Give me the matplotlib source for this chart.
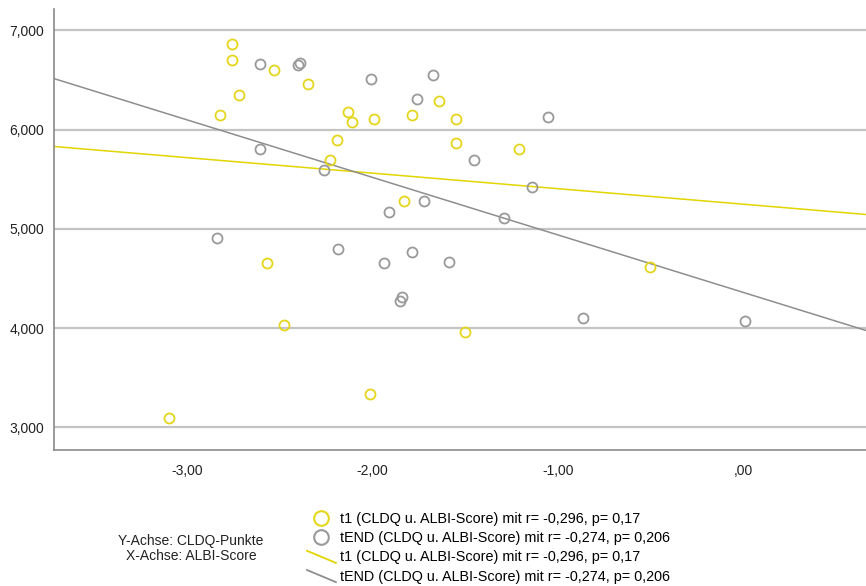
import numpy as np
import matplotlib
matplotlib.use("Agg")
import matplotlib.pyplot as plt
from matplotlib.lines import Line2D
from matplotlib.legend_handler import HandlerBase
from matplotlib.ticker import FuncFormatter

plt.rcParams['font.family'] = ['Liberation Sans', 'DejaVu Sans']

###############################################################################
# Data
###############################################################################
# t1: ALBI-Score (x) and CLDQ-Punkte (y)
t1_albi = [-2.758, -2.758, -2.720, -2.821, -2.529, -2.349, -2.130, -2.108,
           -1.989, -1.788, -1.639, -1.550, -2.189, -2.229, -1.550, -1.210,
           -1.829, -2.570, -2.479, -3.098, -2.011, -1.500, -0.504]
t1_cldq = [6.866, 6.704, 6.344, 6.143, 6.604, 6.455, 6.177, 6.076,
           6.106, 6.143, 6.284, 6.106, 5.895, 5.696, 5.864, 5.804,
           5.285, 4.654, 4.032, 3.097, 3.339, 3.961, 4.620]

# tEND
tend_albi = [-2.608, -2.402, -2.391, -2.608, -2.839, -2.009, -1.671, -1.761,
             -1.051, -1.450, -2.260, -1.140, -1.720, -1.910, -1.290, -2.188,
             -1.937, -1.788, -1.587, -1.839, -1.851, -0.862, 0.009]
tend_cldq = [6.664, 6.654, 6.674, 5.800, 4.904, 6.506, 6.553, 6.308,
             6.127, 5.693, 5.595, 5.417, 5.285, 5.174, 5.108, 4.793,
             4.660, 4.765, 4.664, 4.317, 4.277, 4.102, 4.075]

label_t1 = "t1 (CLDQ u. ALBI-Score) mit r= -0,296, p= 0,17"
label_tend = "tEND (CLDQ u. ALBI-Score) mit r= -0,274, p= 0,206"

x_ticks = [-3, -2, -1, 0]
y_ticks = [3, 4, 5, 6, 7]

YELLOW = '#e5d61c'
YELLOW_LINE = '#e2d500'
GRAY = '#999999'
GRAY_LINE = '#8e8e8e'


class DiagonalHandler(HandlerBase):
    # SPSS-style slanted line in the legend
    def create_artists(self, legend, orig_handle, xdescent, ydescent,
                       width, height, fontsize, trans):
        x0 = -xdescent
        line = Line2D([x0, x0 + width], [-ydescent + height * 1.05, -ydescent - height * 0.15],
                      color=orig_handle.get_color(), lw=orig_handle.get_linewidth())
        line.set_transform(trans)
        return [line]


fig = plt.figure(figsize=(8.66, 5.86), dpi=100)
ax = fig.add_axes([54 / 866, 1 - 450 / 586, 1 - 54 / 866, (450 - 9) / 586])

xmin, xmax = -3.718, 0.664
ax.set_xlim(xmin, xmax)
ax.set_ylim(2.772, 7.214)

# grid lines
for yv in y_ticks:
    ax.axhline(yv, color='#c4c4c4', lw=1.6, zorder=0)

# scatter
ax.plot(t1_albi, t1_cldq, 'o', mfc='none', mec=YELLOW, mew=1.3, ms=7.2, zorder=3)
ax.plot(tend_albi, tend_cldq, 'o', mfc='none', mec=GRAY, mew=1.3, ms=7.2, zorder=3)

# linear fits
xs = np.array([xmin, xmax])
b1, a1 = np.polyfit(t1_albi, t1_cldq, 1)
b2, a2 = np.polyfit(tend_albi, tend_cldq, 1)
ax.plot(xs, a1 + b1 * xs, color=YELLOW_LINE, lw=1.1, zorder=2)
ax.plot(xs, a2 + b2 * xs, color=GRAY_LINE, lw=1.1, zorder=2)

ax.set_xticks(x_ticks)
ax.set_yticks(y_ticks)


def fmt_x(v, pos):
    s = f"{v:.2f}"
    if s.startswith("0."):
        s = s[1:]
    return s.replace('.', ',')


ax.xaxis.set_major_formatter(FuncFormatter(fmt_x))
ax.yaxis.set_major_formatter(FuncFormatter(lambda v, p: f"{v:.3f}".replace('.', ',')))
ax.tick_params(axis='both', length=0, labelsize=10, colors='#222222')
ax.tick_params(axis='x', pad=10)
ax.tick_params(axis='y', pad=7)

for side in ['top', 'right']:
    ax.spines[side].set_visible(False)
for side in ['left', 'bottom']:
    ax.spines[side].set_color('#8a8a8a')
    ax.spines[side].set_linewidth(1.2)

# legend
h_t1 = Line2D([], [], ls='none', marker='o', mfc='none', mec=YELLOW, mew=1.5, ms=10.5)
h_tend = Line2D([], [], ls='none', marker='o', mfc='none', mec=GRAY, mew=1.5, ms=10.5)
l_t1 = Line2D([], [], color=YELLOW_LINE, lw=1.3)
l_tend = Line2D([], [], color=GRAY_LINE, lw=1.3)
fig.legend([h_t1, h_tend, l_t1, l_tend], [label_t1, label_tend, label_t1, label_tend],
           handler_map={l_t1: DiagonalHandler(), l_tend: DiagonalHandler()},
           loc='upper left', bbox_to_anchor=(307 / 866, 1 - 512 / 586),
           frameon=False, fontsize=10.4, borderpad=0, borderaxespad=0,
           handlelength=2.0, handletextpad=0.3, labelspacing=0.36)

fig.text(191 / 866, 1 - 541 / 586, "Y-Achse: CLDQ-Punkte", ha='center', va='center',
         fontsize=10, color='#222222')
fig.text(191 / 866, 1 - 556 / 586, "X-Achse: ALBI-Score", ha='center', va='center',
         fontsize=10, color='#222222')

fig.savefig("out.png", dpi=100)
